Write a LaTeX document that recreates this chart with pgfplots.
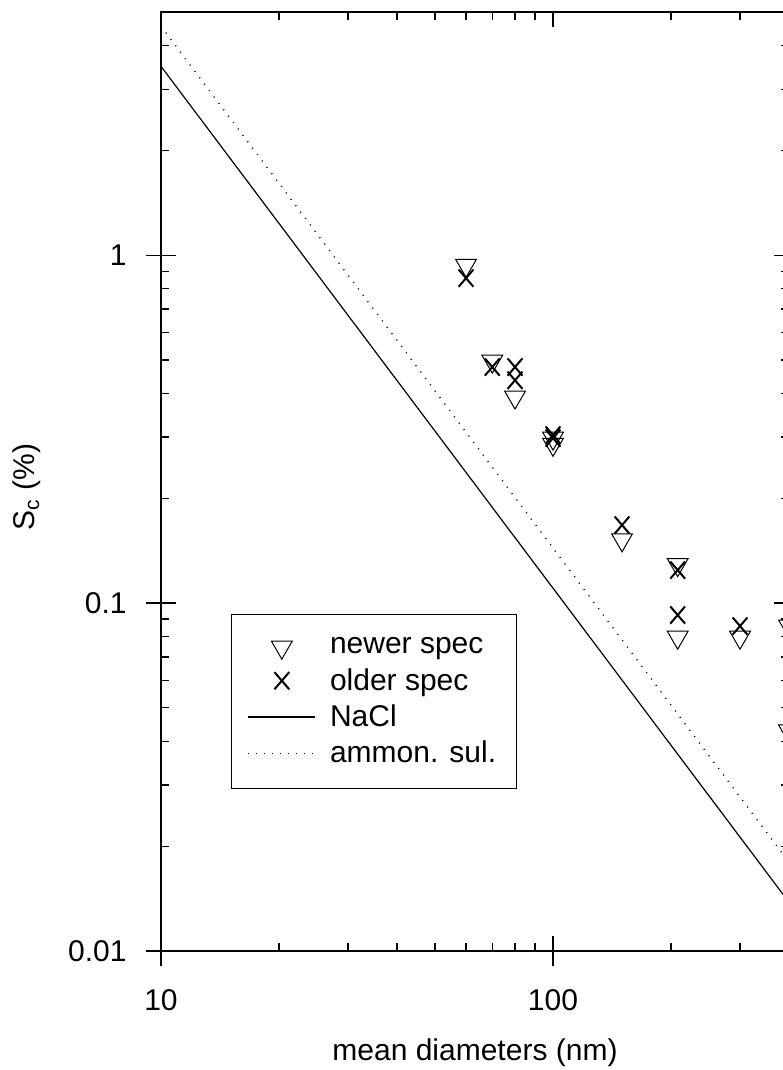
\documentclass[border=0pt]{standalone}
\usepackage{fontspec}
\setmainfont{Liberation Sans}
\usepackage{pgfplots}
\pgfplotsset{compat=1.18}
\pgfdeclareplotmark{bigX}{%
  \pgfpathmoveto{\pgfqpoint{-3.7pt}{-4.3pt}}\pgfpathlineto{\pgfqpoint{3.7pt}{4.3pt}}%
  \pgfpathmoveto{\pgfqpoint{-3.7pt}{4.3pt}}\pgfpathlineto{\pgfqpoint{3.7pt}{-4.3pt}}%
  \pgfusepathqstroke}
\pgfplotsset{
  markleg/.style={legend image code/.code={\draw[##1] plot coordinates {(16.75pt,0pt)};}},
  lineleg/.style={legend image code/.code={\draw[##1] (0pt,0pt) -- (33.5pt,0pt);}},
}
\begin{document}
\begin{tikzpicture}
\path[use as bounding box] (-80.5pt,-59.5pt) rectangle (310.5pt,475.5pt);
% outward halves of the major ticks (bottom and left only)
\begin{axis}[
  at={(0pt,0pt)}, anchor=south west,
  scale only axis, width=314pt, height=469.5pt,
  xmode=log, ymode=log,
  xmin=10, xmax=400, ymin=0.01, ymax=5,
  every tick/.style={line width=0.6pt, black},
  axis x line*=bottom, axis y line*=left,
  axis line style={draw=none},
  tick align=outside, major tick length=7.5pt,
  xtick={10,100}, ytick={0.01,0.1,1},
  xticklabels={}, yticklabels={},
  xminorticks=false, yminorticks=false,
]
\end{axis}
\begin{axis}[
  at={(0pt,0pt)}, anchor=south west,
  scale only axis, width=314pt, height=469.5pt,
  xmode=log, ymode=log,
  xmin=10, xmax=400, ymin=0.01, ymax=5,
  every tick/.style={line width=0.6pt, black},
  clip=false,
  axis line style={line width=0.6pt},
  tick align=inside,
  major tick length=7.5pt, minor tick length=4pt,
  xtick={10,100}, xticklabels={10,100},
  ytick={0.01,0.1,1}, yticklabels={0.01,0.1,1},
  minor xtick={20,30,40,50,60,70,80,90,200,300},
  minor ytick={0.02,0.03,0.04,0.05,0.06,0.07,0.08,0.09,0.2,0.3,0.4,0.5,0.6,0.7,0.8,0.9,2,3,4},
  xticklabel style={font=\fontsize{15}{18}\selectfont, inner sep=0pt, anchor=north, yshift=-19pt},
  yticklabel style={font=\fontsize{15}{18}\selectfont, inner sep=0pt, anchor=east, xshift=-17pt},
  xlabel={mean diameters (nm)},
  ylabel={S\textsubscript{c} (\%)},
  xlabel style={font=\fontsize{15}{18}\selectfont, at={(axis description cs:0.5,0)}, anchor=center, yshift=-51pt},
  ylabel style={font=\fontsize{15}{18}\selectfont, at={(axis description cs:-0.2134,0.494)}, anchor=center},
  legend style={at={(axis description cs:0.1115,0.3589)}, anchor=north west,
    draw=black, line width=0.6pt, fill=white,
    font=\fontsize{15}{18}\selectfont,
    inner xsep=8pt, inner ysep=9.5pt, row sep=1.8pt,
    cells={anchor=west},
    /tikz/every odd column/.append style={column sep=5pt}},
]
\addplot[only marks, mark=triangle, mark size=6pt, mark options={rotate=180, line width=0.5pt, black}, markleg]
  coordinates {
  (60,0.935) (70,0.496) (80,0.391) (100,0.298) (100,0.286) (150,0.152)
  (208,0.129) (208,0.0798) (300,0.0798) (400,0.0859) (400,0.0429)
  };
\addlegendentry{newer spec}
\addplot[only marks, mark=bigX, mark options={line width=1pt, black}, markleg]
  coordinates {
  (60,0.859) (70,0.477) (80,0.477) (80,0.437) (100,0.304) (100,0.298)
  (150,0.1676) (208,0.1244) (208,0.0924) (300,0.0859)
  };
\addlegendentry{older spec}
\addplot[black, line width=0.6pt, no marks, lineleg]
  coordinates {(10,3.49) (400,0.0138)};
\addlegendentry{NaCl}
\addplot[black, line width=0.7pt, dash pattern=on 0.5pt off 3.5pt, no marks, lineleg]
  coordinates {(10,4.55) (400,0.0180)};
\addlegendentry{ammon. sul.}
\end{axis}
\end{tikzpicture}
\end{document}
